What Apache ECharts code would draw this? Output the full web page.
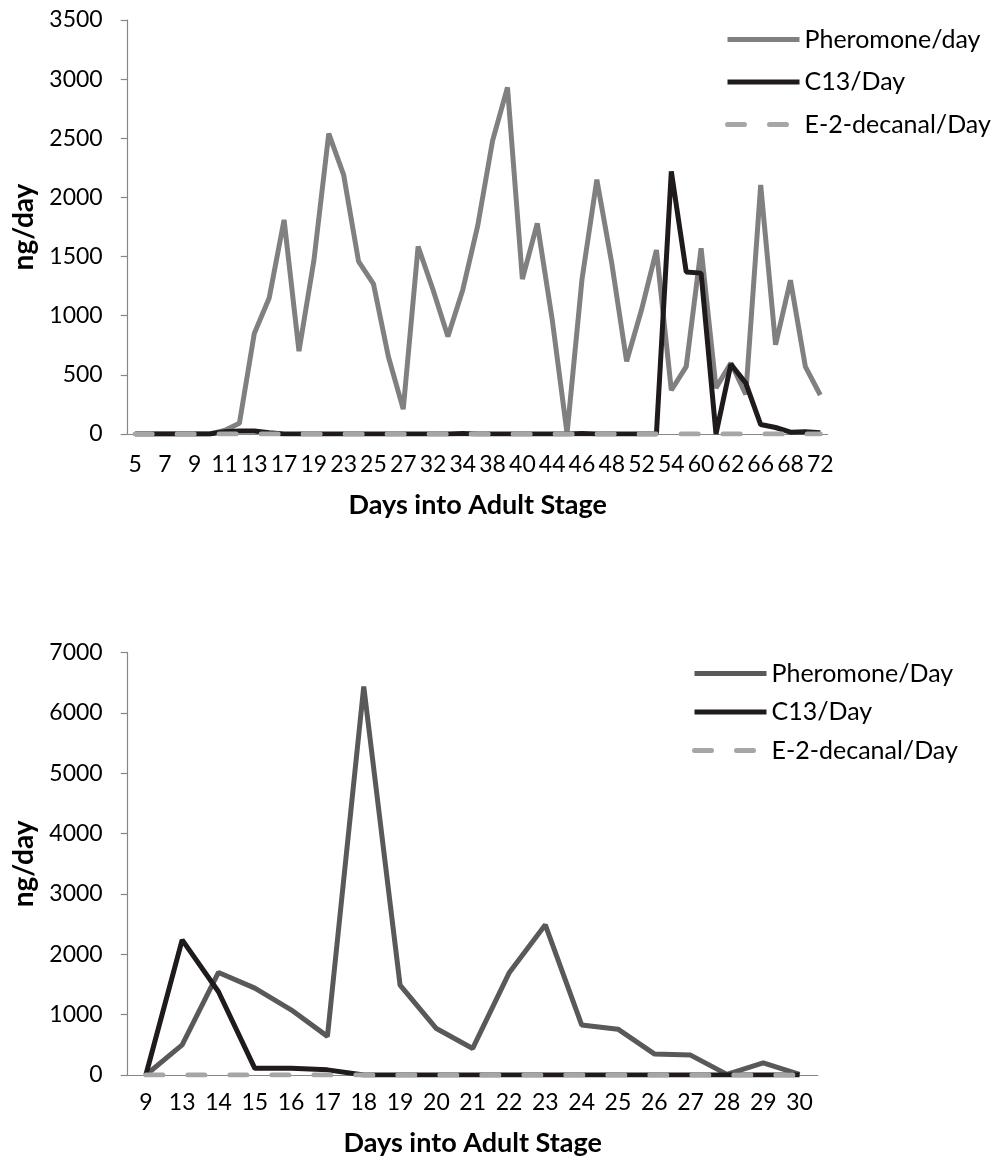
<!DOCTYPE html>
<html>
<head>
<meta charset="utf-8">
<script src="https://cdn.jsdelivr.net/npm/echarts@6/dist/echarts.min.js"></script>
<style>
html,body{margin:0;padding:0;background:#fff;}
#c1{position:absolute;left:0;top:0;width:996px;height:579px;}
#c2{position:absolute;left:0;top:579px;width:996px;height:579px;}
</style>
</head>
<body>
<div id="c1"></div>
<div id="c2"></div>
<script>
// ---- Top chart data ----
const daysTop = ['5','6','7','8','9','10','11','12','13','15','17','18','19','20','23','24','25','26','27','31','32','33','34','37','38','39','40','41','44','45','46','47','48','51','52','53','54','59','60','61','62','65','66','67','68','69','72'];
const pheromoneTop = [0,0,0,0,0,0,30,90,850,1150,1810,700,1465,2540,2190,1460,1270,655,210,1585,1220,825,1220,1760,2480,2930,1310,1780,970,5,1305,2150,1445,615,1050,1555,370,570,1570,390,600,335,2105,755,1300,570,330];
const c13Top = [0,0,0,0,0,0,20,25,25,10,0,0,0,0,0,0,0,0,0,0,0,0,5,0,0,0,0,0,0,0,5,0,0,0,0,0,2220,1370,1360,0,590,430,80,55,15,20,10];
const e2Top = [0,0,0,0,0,0,0,0,0,0,0,0,0,0,0,0,0,0,0,0,0,0,0,0,0,0,0,0,0,0,0,0,0,0,0,0,0,0,0,0,0,0,0,0,0,0,0];
const yTicksTop = {min:0, max:3500, interval:500};

// ---- Bottom chart data ----
const daysBottom = ['9','13','14','15','16','17','18','19','20','21','22','23','24','25','26','27','28','29','30'];
const pheromoneBottom = [0,500,1700,1440,1080,640,6440,1490,770,440,1690,2490,830,760,350,330,10,200,10];
const c13Bottom = [0,2240,1380,110,110,85,0,0,0,0,0,0,0,0,0,0,0,0,0];
const e2Bottom = [0,0,0,0,0,0,0,0,0,0,0,0,0,0,0,0,0,0,0];
const yTicksBottom = {min:0, max:7000, interval:1000};

const FONT = 'Lato';
const AXIS_COLOR = '#868686';

function makeOption(cfg){
  return {
    animation:false,
    backgroundColor:'#fff',
    textStyle:{fontFamily:FONT},
    legend:{
      orient:'vertical', left:cfg.legendLeft, top:cfg.legendTop, padding:0,
      itemWidth:72, itemHeight:14, itemGap:cfg.legendGap,
      textStyle:{fontFamily:FONT, fontSize:25, color:'#000'},
      lineStyle:{width:5},
      itemStyle:{opacity:0, borderWidth:0},
      data:[cfg.names[0], cfg.names[1], cfg.names[2]]
    },
    grid:{left:127.7, top:cfg.gridTop, width:cfg.gridWidth, height:cfg.gridHeight,
          containLabel:false, outerBoundsMode:'none'},
    xAxis:{
      type:'category', data:cfg.days, boundaryGap:true,
      name:'Days into Adult Stage', nameLocation:'middle', nameGap:cfg.xNameGap,
      nameTextStyle:{fontFamily:FONT, fontSize:27, fontWeight:'bold', color:'#000'},
      axisLine:{lineStyle:{color:AXIS_COLOR, width:1.2}},
      axisTick:{interval:0, length:7, lineStyle:{color:AXIS_COLOR, width:1.2}},
      axisLabel:{interval:cfg.labelInterval, margin:cfg.xLabelMargin, fontFamily:FONT, fontSize:23, color:'#000'},
      splitLine:{show:false}
    },
    yAxis:{
      type:'value', min:cfg.yTicks.min, max:cfg.yTicks.max, interval:cfg.yTicks.interval,
      name:'ng/day', nameLocation:'middle', nameGap:76,
      nameTextStyle:{fontFamily:FONT, fontSize:28, fontWeight:'bold', color:'#000'},
      axisLine:{show:true, lineStyle:{color:AXIS_COLOR, width:1.2}},
      axisTick:{show:true, length:7, lineStyle:{color:AXIS_COLOR, width:1.2}},
      axisLabel:{margin:25, fontFamily:FONT, fontSize:23, color:'#000', formatter:function(v){return String(v);}},
      splitLine:{show:false}
    },
    series:[
      {name:cfg.names[0], type:'line', data:cfg.pher, symbol:'none', color:cfg.pherColor,
       lineStyle:{width:5, color:cfg.pherColor}, z:2},
      {name:cfg.names[1], type:'line', data:cfg.c13, symbol:'none', color:'#1f1a1b',
       lineStyle:{width:5, color:'#1f1a1b'}, z:3},
      {name:cfg.names[2], type:'line', data:cfg.e2, symbol:'none', color:'#a6a6a6',
       lineStyle:{width:5, color:'#a6a6a6', type:[17,25], cap:'round'}, z:4}
    ]
  };
}

const chart1 = echarts.init(document.getElementById('c1'), null, {renderer:'canvas'});
chart1.setOption(makeOption({
  names:['Pheromone/day','C13/Day','E-2-decanal/Day'],
  days:daysTop, pher:pheromoneTop, c13:c13Top, e2:e2Top, yTicks:yTicksTop,
  pherColor:'#808080',
  gridTop:20, gridWidth:700, gridHeight:414,
  labelInterval:1, xLabelMargin:19, xNameGap:57.5,
  legendLeft:725, legendTop:27, legendGap:17.5
}));

const chart2 = echarts.init(document.getElementById('c2'), null, {renderer:'canvas'});
chart2.setOption(makeOption({
  names:['Pheromone/Day','C13/Day','E-2-decanal/Day'],
  days:daysBottom, pher:pheromoneBottom, c13:c13Bottom, e2:e2Bottom, yTicks:yTicksBottom,
  pherColor:'#595959',
  gridTop:73.7, gridWidth:690, gridHeight:422.3,
  labelInterval:0, xLabelMargin:16, xNameGap:55,
  legendLeft:692, legendTop:82, legendGap:13.5
}));
</script>
</body>
</html>
